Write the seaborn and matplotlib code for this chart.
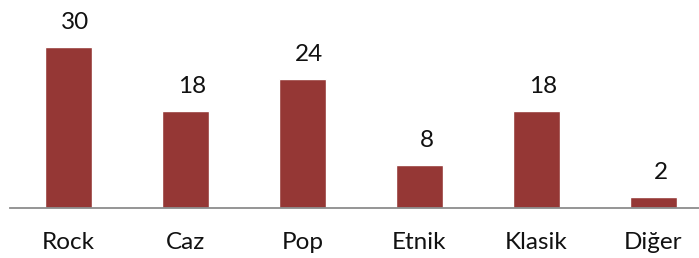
import matplotlib
matplotlib.use("Agg")
import matplotlib.pyplot as plt
import seaborn as sns
import pandas as pd

categories = ["Rock", "Caz", "Pop", "Etnik", "Klasik", "Diğer"]
values = [30, 18, 24, 8, 18, 2]

sns.set_style("white")
plt.rcParams['font.family'] = ['Lato', 'DejaVu Sans']

df = pd.DataFrame({"cat": categories, "val": values})

W, H = 699, 258
fig = plt.figure(figsize=(W / 100, H / 100), dpi=100)
ax = fig.add_axes([10 / W, (H - 207.5) / H, 689 / W, 38 * 5.35 / H])

sns.barplot(data=df, x="cat", y="val", color="#953735", saturation=1,
            width=0.40, ax=ax)
ax.set_xlim(-0.5, (699 - 68.5) / 117)
ax.set_ylim(0, 38)

for s in ["top", "right", "left"]:
    ax.spines[s].set_visible(False)
ax.spines["bottom"].set_color("#8c8c8c")
ax.spines["bottom"].set_linewidth(1.3)
ax.set_yticks([])
ax.set_xlabel("")
ax.set_ylabel("")
ax.tick_params(axis="x", length=0, pad=17.5, labelsize=17.5, labelcolor="#111111")

for i, v in enumerate(values):
    ax.annotate(str(v), (i, v), xytext=(7, 18), textcoords="offset pixels",
                ha="center", va="baseline", fontsize=17.5, color="#111111",
                annotation_clip=False)

fig.savefig("out.png", dpi=100)
